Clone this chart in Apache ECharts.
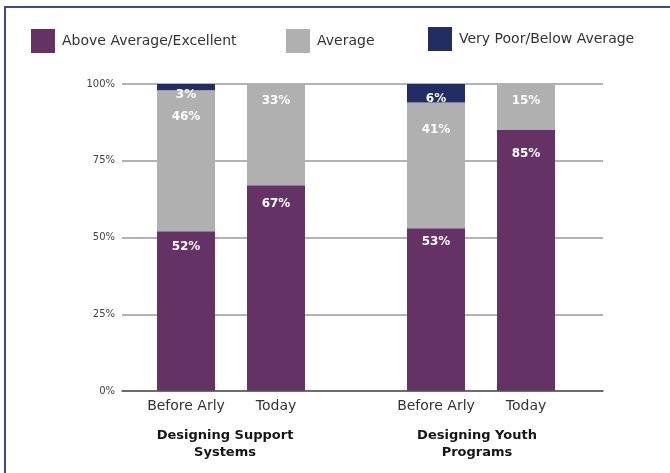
<!DOCTYPE html>
<html>
<head>
<meta charset="utf-8">
<script src="https://cdn.jsdelivr.net/npm/echarts@6/dist/echarts.min.js"></script>
<style>
  html, body { margin: 0; padding: 0; background: #ffffff; }
  #chart { width: 670px; height: 473px; }
</style>
</head>
<body>
<div id="chart"></div>
<script>
// Survey ratings, before Arly vs today, for two program areas
const groups = ['Designing Support\nSystems', 'Designing Youth\nPrograms'];
const periods = ['Before Arly', 'Today'];
const seriesNames = ['Above Average/Excellent', 'Average', 'Very Poor/Below Average'];

// Percent of respondents per period (Before Arly, Today)
const supportAbove = [52, 67];
const supportAverage = [46, 33];
const supportPoor = [3, null];

const youthAbove = [53, 85];
const youthAverage = [41, 15];
const youthPoor = [6, null];

const yTicks = [0, 25, 50, 75, 100];

// Distance (px) of each value label below the top of its segment
const supportLabelGap = { above: [10, 13], average: [21, 11], poor: [5, 5] };
const youthLabelGap = { above: [8, 18], average: [21, 11], poor: [9, 9] };

const COLORS = ['#643264', '#b0b0b0', '#222d63'];
const FONT = 'DejaVu Sans';

const chart = echarts.init(document.getElementById('chart'), null, { renderer: 'canvas' });

const plotTop = 84, plotHeight = 307;

function withGaps(values, gaps) {
  return values.map((v, i) => v == null ? null : {
    value: v,
    label: { distance: gaps[i] }
  });
}

function groupSeries(axisIndex, above, average, poor, gaps, stackId) {
  return [
    { name: seriesNames[0], data: withGaps(above, gaps.above) },
    { name: seriesNames[1], data: withGaps(average, gaps.average) },
    { name: seriesNames[2], data: withGaps(poor, gaps.poor) }
  ].map((s, i) => ({
    type: 'bar',
    name: s.name,
    xAxisIndex: axisIndex,
    yAxisIndex: axisIndex,
    stack: stackId,
    barWidth: 58,
    clip: true,
    itemStyle: { color: COLORS[i] },
    label: {
      show: true,
      position: 'insideTop',
      distance: 11,
      color: '#ffffff',
      fontFamily: FONT,
      fontWeight: 'bold',
      fontSize: 12,
      formatter: p => p.value == null ? '' : p.value + '%'
    },
    data: s.data
  }));
}

function legendAt(name, left, top) {
  return {
    data: [name],
    left: left,
    top: top,
    padding: 0,
    itemWidth: 24,
    itemHeight: 24,
    icon: 'rect',
    selectedMode: false,
    textStyle: { fontFamily: FONT, fontSize: 14, color: '#333333', padding: [0, 0, 0, 2] }
  };
}

function groupAxis(gridIndex, name, shift) {
  return {
    type: 'category',
    gridIndex: gridIndex,
    data: periods,
    axisLine: { show: false },
    axisTick: { show: false },
    axisLabel: { interval: 0, margin: 8, fontFamily: FONT, fontSize: 14, color: '#333333' },
    name: name,
    nameLocation: 'middle',
    nameGap: 36,
    nameTextStyle: {
      fontFamily: FONT, fontSize: 13, fontWeight: 'bold', color: '#151515',
      lineHeight: 17, verticalAlign: 'top', padding: [0, shift, 0, 0]
    }
  };
}

const hiddenY = (gridIndex) => ({
  type: 'value', gridIndex: gridIndex, min: 0, max: 100, interval: 25,
  show: false, splitLine: { show: false }
});

const option = {
  backgroundColor: '#ffffff',
  animation: false,
  graphic: [{
    type: 'rect',
    shape: { x: 5, y: 7, width: 720, height: 520 },
    style: { fill: 'none', stroke: '#3b4a8c', lineWidth: 2 },
    silent: true
  }],
  legend: [
    legendAt(seriesNames[0], 31, 29),
    legendAt(seriesNames[1], 286, 29),
    legendAt(seriesNames[2], 428, 27)
  ],
  grid: [
    { left: 122, width: 481, top: plotTop, height: plotHeight },
    { left: 141, width: 180, top: plotTop, height: plotHeight },
    { left: 391, width: 180, top: plotTop, height: plotHeight }
  ],
  xAxis: [
    {
      type: 'value', gridIndex: 0, min: 0, max: 1,
      axisLabel: { show: false }, axisTick: { show: false }, splitLine: { show: false },
      axisLine: { show: true, lineStyle: { color: '#555555', width: 1.5 } },
      z: 3
    },
    groupAxis(1, groups[0], 12),
    groupAxis(2, groups[1], 8)
  ],
  yAxis: [
    {
      type: 'value', gridIndex: 0, min: yTicks[0], max: yTicks[yTicks.length - 1], interval: 25,
      axisLine: { show: false }, axisTick: { show: false },
      axisLabel: { margin: 7, fontFamily: FONT, fontSize: 10, color: '#444444', formatter: '{value}%' },
      splitLine: { show: true, lineStyle: { color: '#9a9a9a', width: 1.5 } }
    },
    hiddenY(1),
    hiddenY(2)
  ],
  series: [
    ...groupSeries(1, supportAbove, supportAverage, supportPoor, supportLabelGap, 'support'),
    ...groupSeries(2, youthAbove, youthAverage, youthPoor, youthLabelGap, 'youth')
  ]
};

chart.setOption(option);
</script>
</body>
</html>
